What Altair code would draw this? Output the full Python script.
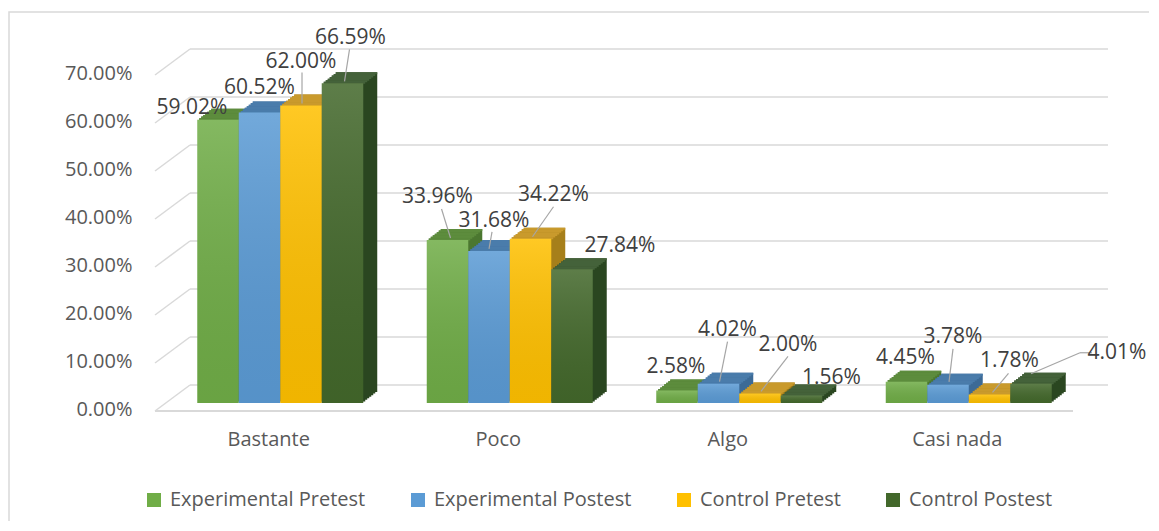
import altair as alt
import pandas as pd

categories = ["Bastante", "Poco", "Algo", "Casi nada"]
series = ["Experimental Pretest", "Experimental Postest", "Control Pretest", "Control Postest"]
exp_pre = [59.02, 33.96, 2.58, 4.45]
exp_post = [60.52, 31.68, 4.02, 3.78]
ctl_pre = [62.00, 34.22, 2.00, 1.78]
ctl_post = [66.59, 27.84, 1.56, 4.01]
y_ticks = [0, 10, 20, 30, 40, 50, 60, 70]

# ---- styling ----
front_colors = ["#70ad47", "#5b9bd5", "#ffc000", "#43682b"]
top_colors = ["#5d8c3d", "#4a7cab", "#c99a2c", "#44623a"]
side_colors = ["#4b7730", "#3c6a96", "#a67f1a", "#2a4620"]
FONT = "Open Sans"
W, H = 938, 336
DX, DY = 14.0, 11.0
STEPS = 7
BW = 0.1808              # bar width as a fraction of one category step
X_DOMAIN = [-0.5458, 3.5414]

# label placement (pixel nudges from the top-centre of each bar front), per series row
label_nudge = [
    [(-26, -12), (-10, -43), (-1, -24), (-1, -24)],
    [(0, -25), (5, -30), (9, -54), (5, -48)],
    [(0, -43), (23, -44), (28, -48), (20, -33)],
    [(8, -45), (48, -23), (30, -18), (86, -31)],
]
# leader lines: (start dx, start dy, end dx, end dy) in pixels, None = no leader
leaders = [
    [None, (-6, -31, 3, -2), None, None],
    [None, (3, -19, 0, -2), (9, -42, 1, -2), (5, -36, 1, -3)],
    [(1, -33, 1, -2), (23, -32, 2, -2), (28, -37, 1, -2), (19, -21, 3, -2)],
    [(7, -34, 2, -2), None, None, (49, -31, 0, -10)],
]
leader_hooks = [[None] * 4 for _ in range(4)]
leader_hooks[3][3] = (49, -31, 61, -31)

rows = []
for si, (s, vals) in enumerate(zip(series, [exp_pre, exp_post, ctl_pre, ctl_post])):
    for ci, (c, v) in enumerate(zip(categories, vals)):
        rows.append({"category": c, "series": s, "ci": ci, "si": si, "value": v})
df = pd.DataFrame(rows)
df["xc"] = df["ci"] + (df["si"] - 1.5) * BW
df["x0"] = df["xc"] - BW / 2
df["x1"] = df["xc"] + BW / 2
ticks_df = pd.DataFrame({"tick": y_ticks})

label_expr = "[" + ",".join("'" + c + "'" for c in categories) + "][datum.value]"
x_axis = alt.Axis(title=None, values=list(range(len(categories))), labelExpr=label_expr,
                  domain=False, ticks=False, grid=False, labelPadding=26, labelFontSize=20,
                  labelFont=FONT, labelColor="#595959", labelOffset=-12, labelFlush=False)
y_axis = alt.Axis(title=None, values=y_ticks, domain=False, ticks=False, grid=False,
                  labelPadding=23, labelFontSize=20, labelFont=FONT, labelColor="#595959",
                  labelOffset=6, labelExpr="format(datum.value, '.2f') + '%'")
x_scale = alt.Scale(domain=X_DOMAIN, nice=False, zero=False)
y_scale = alt.Scale(domain=[0, 70], nice=False, zero=True)


def X(field):
    return alt.X(f"{field}:Q", scale=x_scale, axis=x_axis)


def Y(field="value"):
    return alt.Y(f"{field}:Q", scale=y_scale, axis=y_axis)


layers = []

# back-wall gridlines, left diagonals and floor edge
layers.append(
    alt.Chart(ticks_df).mark_rule(color="#d9d9d9", strokeWidth=1.5, yOffset=-18, y2Offset=-18)
    .encode(x=alt.value(35), x2=alt.value(953), y=Y("tick"), y2=alt.Y2("tick:Q"))
)
layers.append(
    alt.Chart(ticks_df).mark_rule(color="#d9d9d9", strokeWidth=1.5, yOffset=8, y2Offset=-18)
    .encode(x=alt.value(0), x2=alt.value(35), y=Y("tick"), y2=alt.Y2("tick:Q"))
)
layers.append(
    alt.Chart(ticks_df).transform_filter("datum.tick == 0")
    .mark_rule(color="#d9d9d9", strokeWidth=2, yOffset=8, y2Offset=8)
    .encode(x=alt.value(0), x2=alt.value(918), y=Y("tick"), y2=alt.Y2("tick:Q"))
)

# 3D side and top faces, painted series by series from left to right
for i, s in enumerate(series):
    base = alt.Chart(df).transform_filter(alt.datum.series == s)
    for k in range(1, STEPS + 1):
        dx = k * DX / STEPS
        dy = k * DY / STEPS
        layers.append(
            base.mark_bar(color=side_colors[i], xOffset=dx, x2Offset=dx, yOffset=-dy, y2Offset=-dy)
            .encode(x=X("x0"), x2=alt.X2("x1:Q"), y=Y(), y2=alt.datum(0))
        )
    for k in range(1, STEPS + 1):
        dx = k * DX / STEPS
        dy = k * DY / STEPS
        layers.append(
            base.mark_bar(color=top_colors[i], xOffset=dx, x2Offset=dx, yOffset=-dy,
                          y2Offset=-dy + DY / STEPS + 0.4)
            .encode(x=X("x0"), x2=alt.X2("x1:Q"), y=Y(), y2=alt.Y2("value:Q"))
        )

# front faces (carry the legend)
layers.append(
    alt.Chart(df).mark_bar().encode(
        x=X("x0"), x2=alt.X2("x1:Q"), y=Y(), y2=alt.datum(0),
        color=alt.Color("series:N", sort=series,
                        scale=alt.Scale(domain=series, range=front_colors),
                        legend=alt.Legend(title=None, orient="none", legendX=-11, legendY=423,
                                          direction="horizontal", symbolType="square",
                                          symbolSize=196, symbolStrokeWidth=0,
                                          labelFontSize=20, labelFont=FONT, labelColor="#595959",
                                          labelLimit=400, columnPadding=42, labelOffset=6,
                                          padding=0)),
    )
)
# subtle vertical shading on the fronts
layers.append(
    alt.Chart(df).mark_bar(
        fill=alt.Gradient(gradient="linear", x1=0, x2=0, y1=0, y2=1,
                          stops=[alt.GradientStop(color="rgba(255,255,255,0.14)", offset=0),
                                 alt.GradientStop(color="rgba(0,0,0,0.06)", offset=1)])
    ).encode(x=X("x0"), x2=alt.X2("x1:Q"), y=Y(), y2=alt.datum(0))
)

# data labels and leader lines
for si, s in enumerate(series):
    for ci, c in enumerate(categories):
        point = alt.Chart(df).transform_filter(
            (alt.datum.series == s) & (alt.datum.category == c)
        ).transform_calculate(label="format(datum.value, '.2f') + '%'")
        ld = leaders[si][ci]
        if ld is not None:
            layers.append(
                point.mark_rule(color="#a6a6a6", strokeWidth=1.2,
                                xOffset=ld[0], yOffset=ld[1], x2Offset=ld[2], y2Offset=ld[3])
                .encode(x=X("xc"), x2=alt.X2("xc:Q"), y=Y(), y2=alt.Y2("value:Q"))
            )
        hk = leader_hooks[si][ci]
        if hk is not None:
            layers.append(
                point.mark_rule(color="#a6a6a6", strokeWidth=1.2,
                                xOffset=hk[0], yOffset=hk[1], x2Offset=hk[2], y2Offset=hk[3])
                .encode(x=X("xc"), x2=alt.X2("xc:Q"), y=Y(), y2=alt.Y2("value:Q"))
            )
        dx, dy = label_nudge[si][ci]
        layers.append(
            point.mark_text(dx=dx, dy=dy, fontSize=21, font=FONT, color="#404040",
                            baseline="middle", align="center")
            .encode(x=X("xc"), y=Y(), text="label:N")
        )

# chart-area frame (left and top edges visible)
layers.append(
    alt.Chart(ticks_df).transform_filter("datum.tick == 0").mark_rect(
        fill=None, stroke="#d9d9d9", strokeWidth=1.5
    ).encode(x=alt.value(-146), x2=alt.value(1400), y=alt.value(-55), y2=alt.value(700))
)

chart = alt.layer(*layers).properties(
    width=W, height=H,
    autosize=alt.AutoSizeParams(type="none"),
    padding={"left": 147, "top": 59, "right": 56, "bottom": 118},
    background="white",
).configure_view(stroke=None)

chart.save("out.html", embed_options={"renderer": "svg", "actions": False})
